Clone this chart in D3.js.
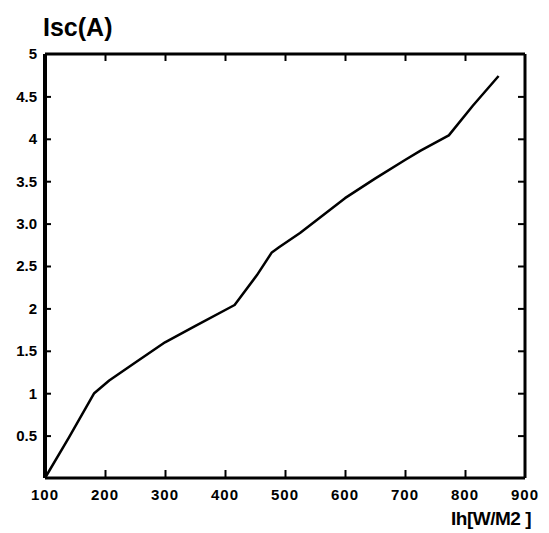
<!DOCTYPE html>
<html>
<head>
<meta charset="utf-8">
<script src="https://cdn.jsdelivr.net/npm/d3@7"></script>
<style>
  body { margin: 0; background: #fff; }
  text { font-family: "Liberation Sans", Arial, sans-serif; font-weight: bold; fill: #000; }
</style>
</head>
<body>
<svg id="chart" width="549" height="533"></svg>
<script>
// irradiance (W/m2) and short-circuit current (A)
var irradiance = [100, 140, 182, 207, 250, 300, 350, 416, 453, 478, 490, 525, 600, 650, 700, 726, 773, 813, 856];
var current = [0, 0.48, 1.0, 1.15, 1.36, 1.6, 1.79, 2.04, 2.39, 2.66, 2.72, 2.89, 3.3, 3.53, 3.75, 3.86, 4.04, 4.39, 4.74];
var xTicks = [100, 200, 300, 400, 500, 600, 700, 800, 900];
var yTicks = [0.5, 1, 1.5, 2, 2.5, 3, 3.5, 4, 4.5, 5];
var yTickLabels = ["0.5", "1", "1.5", "2", "2.5", "3.0", "3.5", "4", "4.5", "5"];

var margin = { top: 54, right: 24, bottom: 55, left: 45 },
  width = 549 - margin.left - margin.right,
  height = 533 - margin.top - margin.bottom;

var svg = d3.select("#chart");
var g = svg.append("g")
  .attr("transform", "translate(" + margin.left + "," + margin.top + ")");

var x = d3.scaleLinear().domain([100, 900]).range([0, width]);
var y = d3.scaleLinear().domain([0, 5]).range([height, 0]);

// inward ticks on all four sides
g.append("g")
  .attr("transform", "translate(0," + height + ")")
  .call(d3.axisTop(x).tickValues(xTicks.slice(1, -1)).tickSize(8).tickFormat(""));
g.append("g")
  .call(d3.axisBottom(x).tickValues(xTicks.slice(1, -1)).tickSize(7).tickFormat(""));
g.append("g")
  .call(d3.axisRight(y).tickValues(yTicks.slice(0, -1)).tickSize(6).tickFormat(""));
g.append("g")
  .attr("transform", "translate(" + width + ",0)")
  .call(d3.axisLeft(y).tickValues(yTicks.slice(0, -1)).tickSize(7).tickFormat(""));

g.selectAll(".domain").remove();
g.selectAll(".tick line").attr("stroke", "#000").attr("stroke-width", 2);

// frame
g.append("line").attr("x1", 0).attr("x2", 0).attr("y1", 0).attr("y2", height)
  .attr("stroke", "#000").attr("stroke-width", 4);
g.append("line").attr("x1", 0).attr("x2", width).attr("y1", height).attr("y2", height)
  .attr("stroke", "#000").attr("stroke-width", 3);
g.append("line").attr("x1", 0).attr("x2", width).attr("y1", 0).attr("y2", 0)
  .attr("stroke", "#000").attr("stroke-width", 3);
g.append("line").attr("x1", width).attr("x2", width).attr("y1", 0).attr("y2", height)
  .attr("stroke", "#000").attr("stroke-width", 3);

// tick labels
g.selectAll(".xlab")
  .data(xTicks)
  .enter()
  .append("text")
  .attr("class", "xlab")
  .attr("x", function (d) { return x(d); })
  .attr("y", height + 22)
  .attr("text-anchor", "middle")
  .style("font-size", "15px")
  .style("letter-spacing", "1px")
  .text(function (d) { return d; });

g.selectAll(".ylab")
  .data(yTicks)
  .enter()
  .append("text")
  .attr("class", "ylab")
  .attr("x", -8)
  .attr("y", function (d) { return y(d); })
  .attr("dy", "0.36em")
  .attr("text-anchor", "end")
  .style("font-size", "15px")
  .text(function (d, i) { return yTickLabels[i]; });

// curve
g.append("path")
  .datum(irradiance.map(function (d, i) { return { ir: d, isc: current[i] }; }))
  .attr("fill", "none")
  .attr("stroke", "#000")
  .attr("stroke-width", 2.5)
  .attr("stroke-linejoin", "round")
  .attr("d", d3.line()
    .x(function (d) { return x(d.ir); })
    .y(function (d) { return y(d.isc); }));

// axis titles
svg.append("text")
  .attr("x", 43)
  .attr("y", 36)
  .style("font-size", "25px")
  .text("Isc(A)");

svg.append("text")
  .attr("x", 531)
  .attr("y", 525)
  .attr("text-anchor", "end")
  .style("font-size", "19px")
  .style("letter-spacing", "-0.5px")
  .text("Ih[W/M2 ]");
</script>
</body>
</html>
